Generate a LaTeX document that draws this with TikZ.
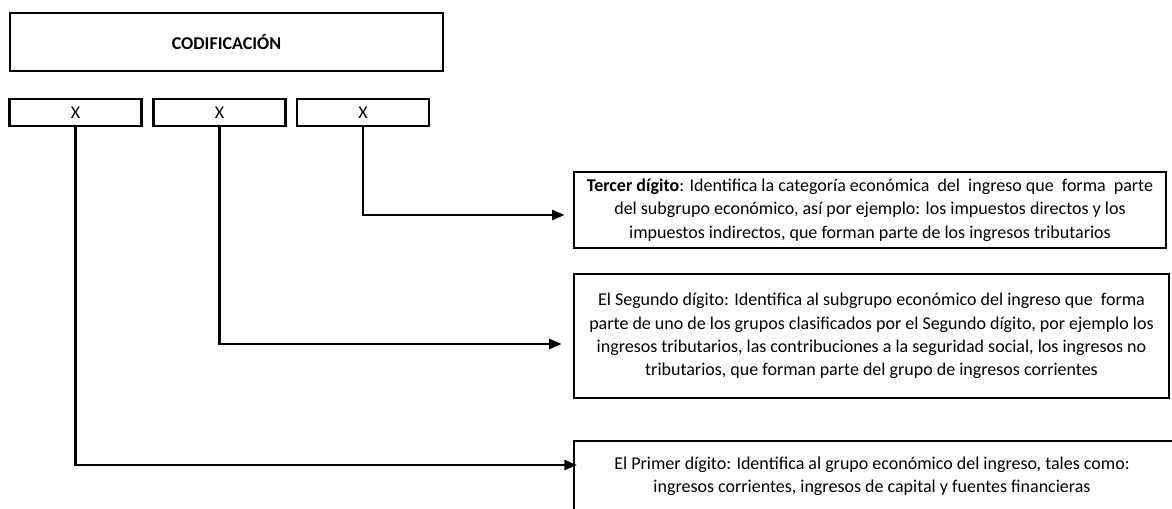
\documentclass[tikz,border=0pt]{standalone}
\usepackage{fontspec}
\setmainfont{Carlito}
\usetikzlibrary{arrows.meta,calc}

\begin{document}
\begin{tikzpicture}
  [x=0.75pt, y=-0.75pt,
   line width=2pt,
   box/.style={rectangle, draw, line width=2pt, inner sep=0pt, align=center,
               font=\fontsize{13.5}{16}\selectfont},
   digit/.style={box, minimum width=99pt, minimum height=20.25pt},
   conn/.style={-{Triangle[length=9.5pt,width=7.5pt]}}
  ]
  \useasboundingbox (0,0) rectangle (1172,508);
  \clip (0,0) rectangle (1172,508);

  \node[box, minimum width=324.75pt, minimum height=43.5pt,
        font=\bfseries\fontsize{13.5}{16}\selectfont] (cod) at (226.5,42) {CODIFICACIÓN};

  \node[digit] (d1) at (75.5,112.5)  {X};
  \node[digit] (d2) at (219.5,112.5) {X};
  \node[digit] (d3) at (363,112.5)   {X};

  \node[box, minimum width=444pt, minimum height=57pt] (t3) at (870,210)
    {\textbf{Tercer dígito}: Identifica la categoría económica \ del \ ingreso que \ forma \ parte\\[1.5pt]
     del subgrupo económico, así por ejemplo: los impuestos directos y los\\[1.5pt]
     impuestos indirectos, que forman parte de los ingresos tributarios};

  \node[box, minimum width=446.25pt, minimum height=93pt] (t2) at (871.5,336)
    {El Segundo dígito: Identifica al subgrupo económico del ingreso que \ forma\\[1.5pt]
     parte de uno de los grupos clasificados por el Segundo dígito, por ejemplo los\\[1.5pt]
     ingresos tributarios, las contribuciones a la seguridad social, los ingresos no\\[1.5pt]
     tributarios, que forman parte del grupo de ingresos corrientes};

  % the last box runs past the page
  \node[align=center, font=\fontsize{13.5}{16}\selectfont] (t1) at (872,476)
    {El Primer dígito: Identifica al grupo económico del ingreso, tales como:\\[1.5pt]
     ingresos corrientes, ingresos de capital y fuentes financieras};
  \draw (574,540) |- (1200,441);
  \coordinate (t1in) at (577,465);

  \draw[conn] (d3.south) |- ($(t3.west)+(-8,5)$);
  \draw[conn] (d2.south) |- ($(t2.west)+(-11,8)$);
  \draw[conn] (d1.south) |- (t1in);
\end{tikzpicture}
\end{document}
